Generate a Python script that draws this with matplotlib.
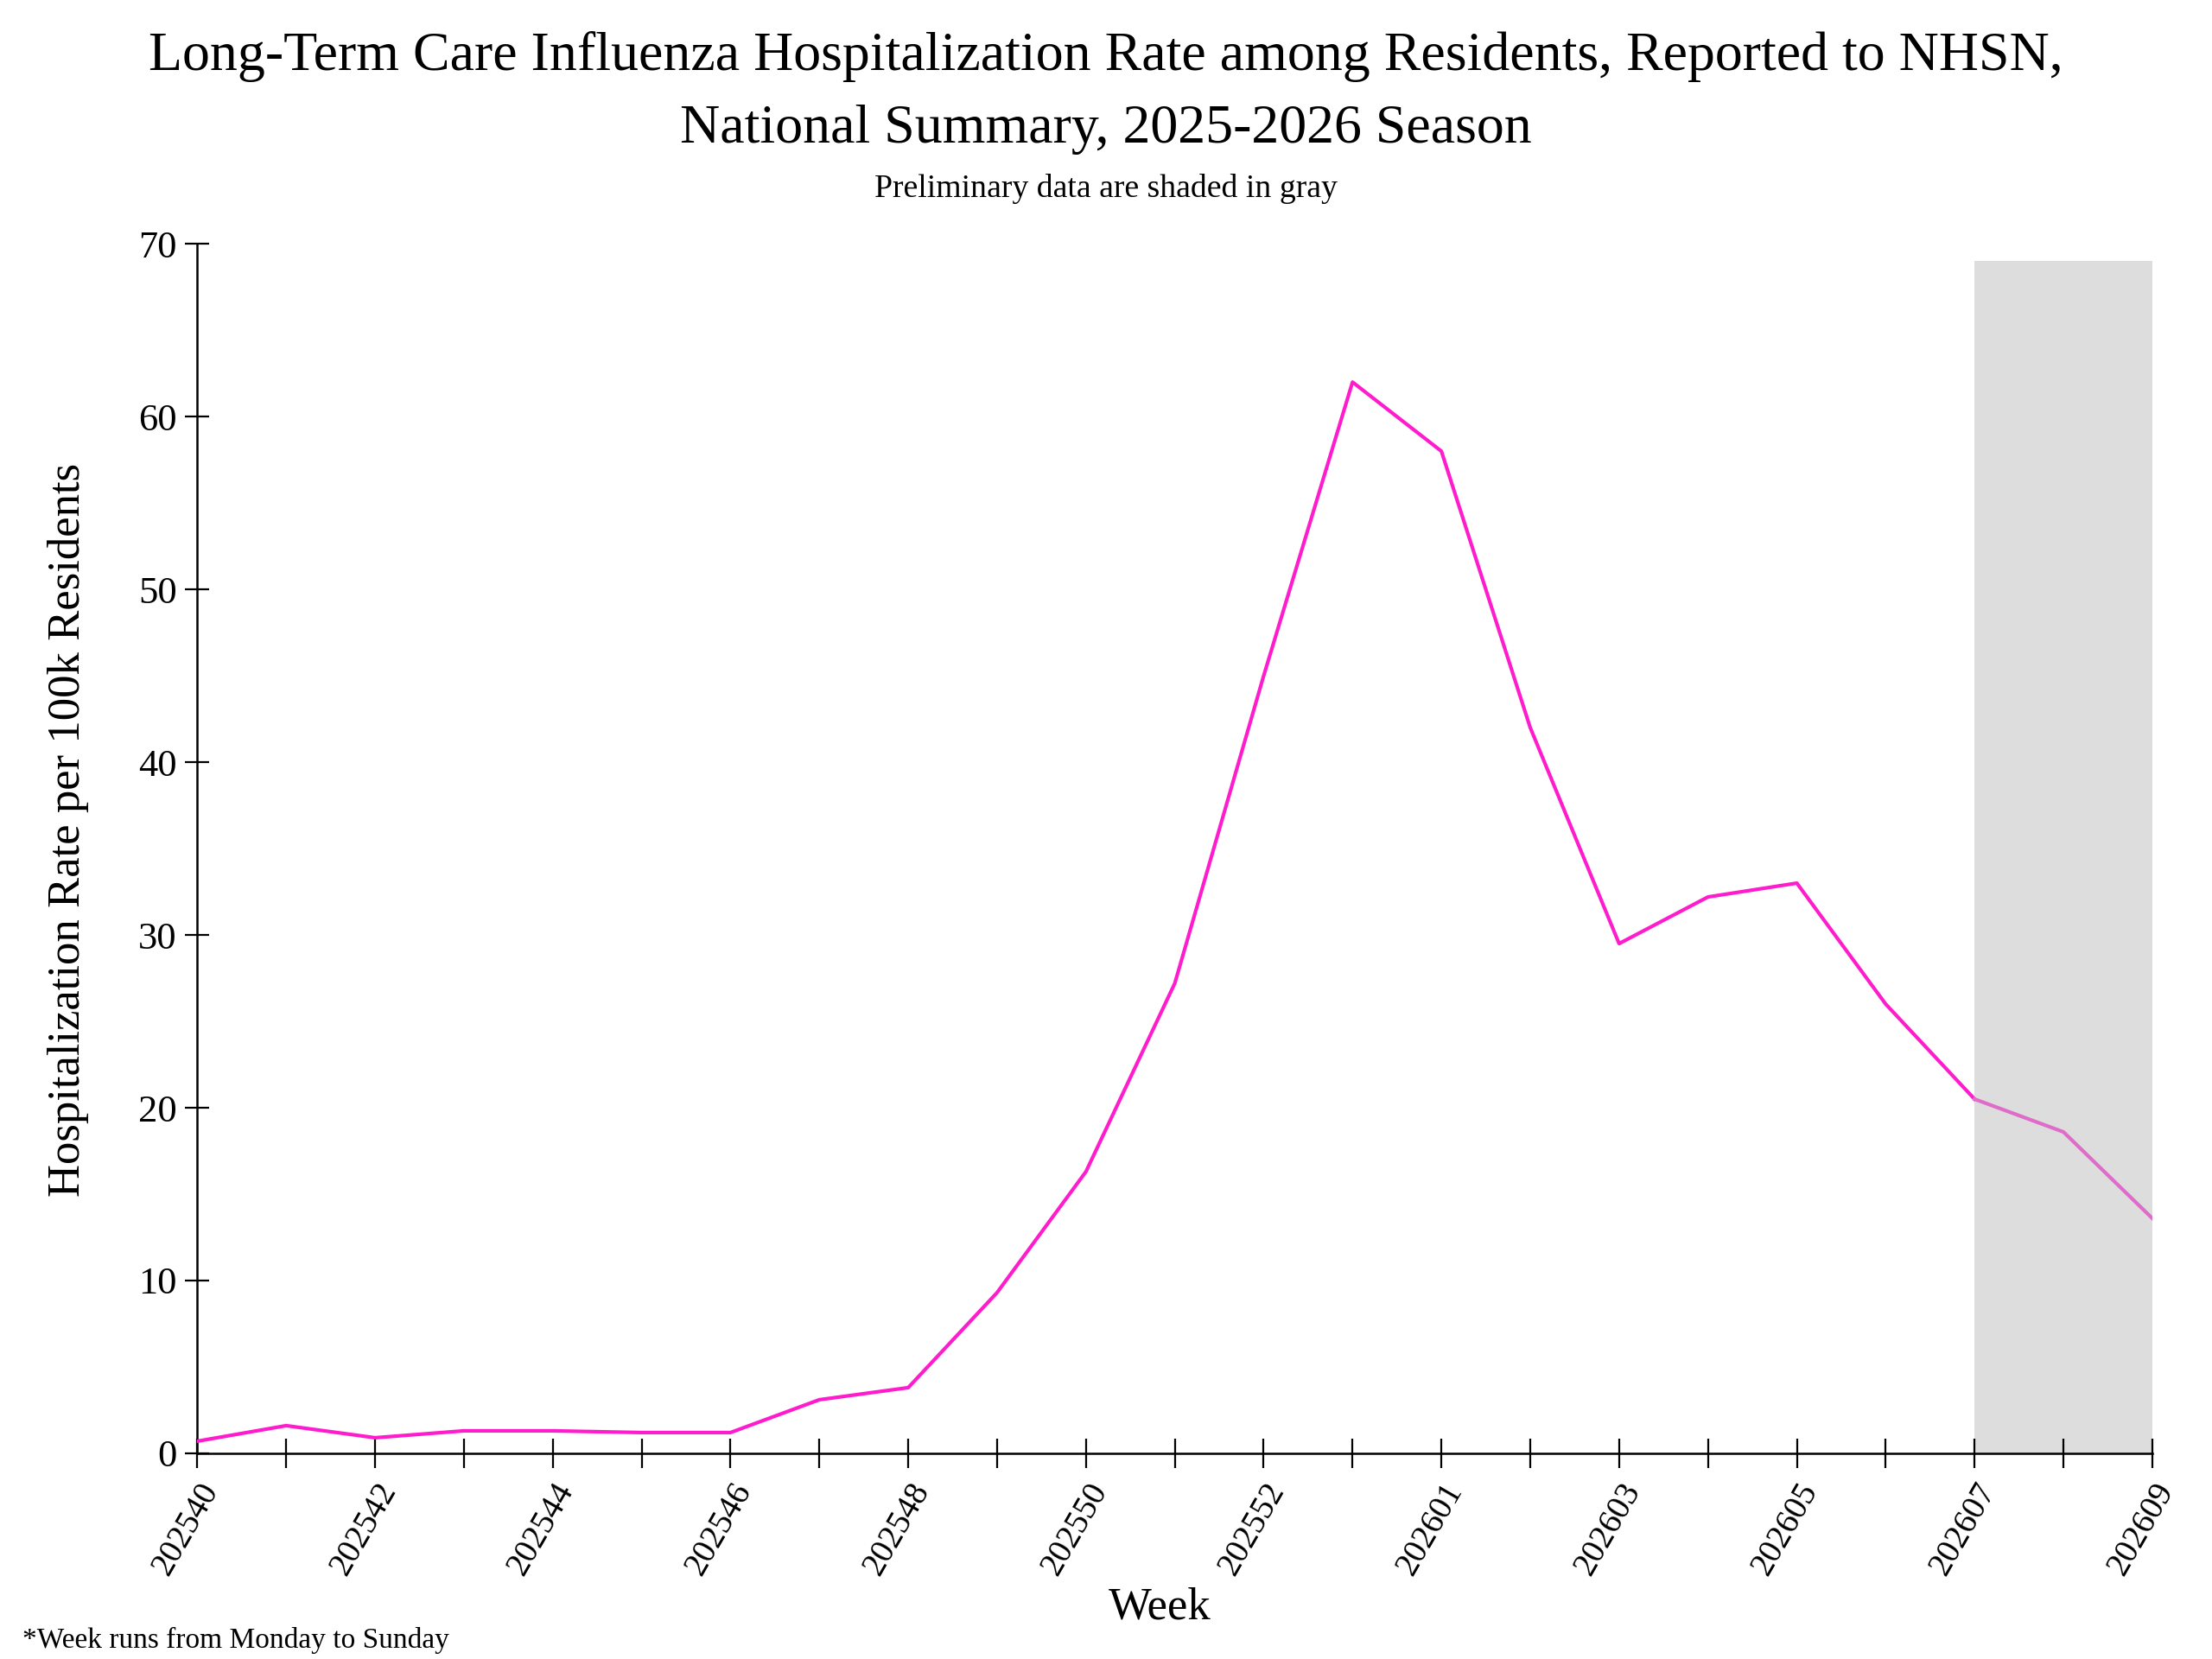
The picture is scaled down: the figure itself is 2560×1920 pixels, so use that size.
import matplotlib
matplotlib.use("Agg")
import matplotlib.pyplot as plt

plt.rcParams['font.family'] = ['Liberation Serif', 'DejaVu Serif']

# weekly data, 2025-2026 season
weeks = ['202540', '202541', '202542', '202543', '202544', '202545', '202546',
         '202547', '202548', '202549', '202550', '202551', '202552', '202553',
         '202601', '202602', '202603', '202604', '202605', '202606', '202607',
         '202608', '202609']
rate = [0.7, 1.6, 0.9, 1.3, 1.3, 1.2, 1.2, 3.1, 3.8, 9.3, 16.3, 27.2, 45.0, 62.0,
        58.0, 42.0, 29.5, 32.2, 33.0, 26.0, 20.5, 18.6, 13.6]
prelim_start = '202607'
shade_top = 69

x = list(range(len(weeks)))
p = weeks.index(prelim_start)

fig = plt.figure(figsize=(12.8, 9.6), dpi=200)
ax = fig.add_axes([0.0892, 0.124, 0.8838, 0.729])

ax.bar((x[p] + x[-1]) / 2, shade_top, width=x[-1] - x[p], color='#dddddd', zorder=1)
ax.plot(x[:p + 1], rate[:p + 1], color='#ff1ccc', lw=1.5, zorder=3)
ax.plot(x[p:], rate[p:], color='#de6cc8', lw=1.5, zorder=3)

ax.set_xlim(0, len(weeks) - 1)
ax.set_ylim(0, 70)
ax.set_yticks(range(0, 71, 10))
ax.set_xticks(x)
ax.set_xticklabels([w if i % 2 == 0 else '' for i, w in enumerate(weeks)],
                   rotation=60, ha='right', rotation_mode='anchor', fontsize=14)
ax.tick_params(axis='y', labelsize=16, direction='inout', length=10, width=0.8)
ax.tick_params(axis='x', direction='inout', length=12, width=0.8, pad=4)
ax.spines['top'].set_visible(False)
ax.spines['right'].set_visible(False)
ax.spines['left'].set_linewidth(0.9)
ax.spines['bottom'].set_linewidth(0.9)

fig.text(0.5, 0.966, 'Long-Term Care Influenza Hospitalization Rate among Residents, Reported to NHSN,',
         ha='center', va='center', fontsize=23)
fig.text(0.5, 0.922, 'National Summary, 2025-2026 Season', ha='center', va='center', fontsize=23)
fig.text(0.5, 0.886, 'Preliminary data are shaded in gray', ha='center', va='center', fontsize=13.6)
fig.text(0.5245, 0.031, 'Week', ha='center', va='center', fontsize=19)
fig.text(0.031, 0.5, 'Hospitalization Rate per 100k Residents', ha='center', va='center',
         rotation=90, fontsize=19)
fig.text(0.01, 0.003, '*Week runs from Monday to Sunday', ha='left', va='bottom', fontsize=12)

fig.savefig('out.png', dpi=200)
